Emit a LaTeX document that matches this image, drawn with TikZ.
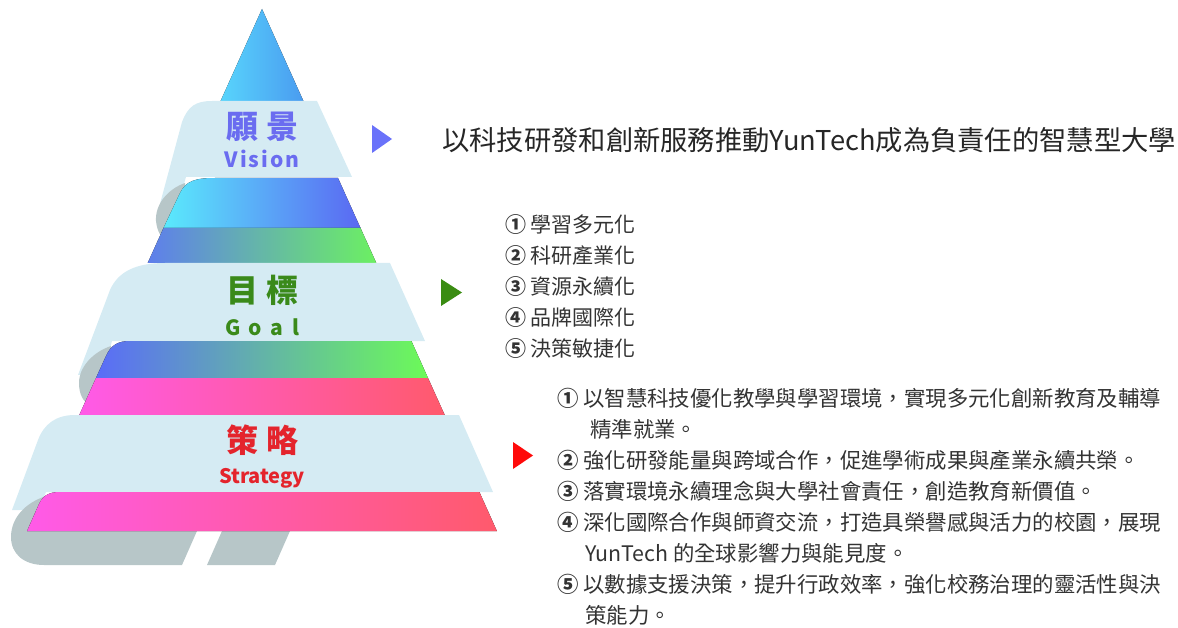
\documentclass[tikz,border=0pt]{standalone}
\usepackage{fontspec}
\setmainfont{Noto Sans CJK TC}
\usetikzlibrary{positioning}

\definecolor{cintacol}{HTML}{D5EBF3}
\definecolor{rizocol}{HTML}{B7C6C8}
\definecolor{puntaizq}{HTML}{58D4FC}
\definecolor{puntader}{HTML}{4A9CF0}
\definecolor{cianizq}{HTML}{5AEAFC}
\definecolor{ciander}{HTML}{5A68F2}
\definecolor{azulizq}{HTML}{5E7EEC}
\definecolor{verdeder}{HTML}{6CF062}
\definecolor{azuldosizq}{HTML}{5A6CF8}
\definecolor{verdedosder}{HTML}{6CFA58}
\definecolor{rosaizq}{HTML}{FF5AE8}
\definecolor{rosamed}{HTML}{FF5A96}
\definecolor{rojoder}{HTML}{FF5A6C}
\definecolor{colvision}{HTML}{6A6CF0}
\definecolor{colmeta}{HTML}{3A8A1A}
\definecolor{colestr}{HTML}{E4242C}
\definecolor{flechaazul}{HTML}{6A72FA}
\definecolor{flechaverde}{HTML}{3A8C12}
\definecolor{flecharoja}{HTML}{FF0A0A}
\definecolor{textogris}{HTML}{333333}

\newcommand{\num}[1]{{\bfseries #1}}

\begin{document}
\begin{tikzpicture}[x=1pt, y=-1pt,
  cinta/.style={fill=cintacol},
  rizo/.style={fill=rizocol},
  rosa/.style={left color=rosaizq, middle color=rosamed, right color=rojoder},
  titulo/.style={inner sep=0pt, font=\bfseries\fontsize{32}{34}\selectfont},
  sub/.style={inner sep=0pt, anchor=base, font=\bfseries\fontsize{21}{24}\selectfont},
  item/.style={inner sep=0pt, anchor=west, text=textogris, font=\fontsize{21}{24}\selectfont},
  itemest/.style={item, font=\fontsize{21.4}{24}\selectfont}]
\useasboundingbox (0,0) rectangle (1178,628);

% Pirámide
\fill[left color=puntaizq, right color=puntader] (262,9) -- (303.4,101) -- (220.6,101) -- cycle;

\fill[cinta] (212,101) -- (317,101) -- (352,177) -- (186,177) -- (175,215) -- (157,215)
  -- (182,122) .. controls (188,106) and (196,101) .. (212,101) -- cycle;
\fill[rizo] (185,183) .. controls (168,189) and (155,204) .. (156,221)
  .. controls (157,231) and (161,238) .. (167,241) -- (190,241) -- cycle;
\fill[left color=cianizq, right color=ciander] (215,178) -- (338,178) -- (360.5,228)
  -- (163.5,228) -- (180,193) .. controls (186,181) and (195,178) .. (215,178) -- cycle;
\fill[left color=azulizq, right color=verdeder] (163.5,228) -- (360.5,228) -- (376.3,263) -- (147.7,263) -- cycle;

\fill[cinta] (165,263) -- (390,263) -- (425,341) -- (112,341) -- (104,372) -- (78,375)
  -- (110,290) .. controls (118,272) and (135,263) .. (165,263) -- cycle;
\fill[rizo] (111,346) .. controls (93,352) and (79,367) .. (79,383)
  .. controls (79,394) and (83,402) .. (90,405) -- (115,405) -- cycle;
\fill[left color=azuldosizq, right color=verdedosder] (130,341) -- (411.4,341) -- (428,378)
  -- (96,378) -- (106,356) .. controls (111,345) and (118,341) .. (130,341) -- cycle;
\fill[rosa] (96,378) -- (428,378) -- (444.7,415) -- (79.3,415) -- cycle;

\fill[cinta] (75,415) -- (459,415) -- (493,492) -- (46,492) -- (38,510) -- (12,510)
  -- (38,440) .. controls (44,424) and (56,415) .. (75,415) -- cycle;
\fill[rizo] (46,496) .. controls (25,503) and (11,518) .. (11,537)
  .. controls (11,554) and (24,565) .. (44,565) -- (182,565) -- (197,531) -- (45,531) -- cycle;
\fill[rizo] (207,565) -- (275,565) -- (290,531) -- (222,531) -- cycle;
\fill[rosa] (60,492) -- (479.4,492) -- (496.9,531) -- (27.1,531)
  -- (39,504) .. controls (43,496) and (48,492) .. (60,492) -- cycle;

% Rótulos
\node[titulo, text=colvision] (vision) at (262,127) {願\hspace{8pt}景};
\node[sub, text=colvision] (visionen) at (262,168) {V\kern2pt i\kern2pt s\kern2pt i\kern2pt o\kern2pt n};
\node[titulo, text=colmeta] (meta) at (262,290) {目\hspace{8pt}標};
\node[sub, text=colmeta] (metaen) at (262,335) {G\hspace{8.5pt}o\hspace{8.5pt}a\hspace{8.5pt}l};
\node[titulo, text=colestr] (estr) at (262,440) {策\hspace{8pt}略};
\node[sub, text=colestr, font=\bfseries\fontsize{20}{24}\selectfont] (estren) at (262,483) {Strategy};

% Flechas
\fill[flechaazul] (372,125) -- (392,139) -- (372,153) -- cycle;
\fill[flechaverde] (441,279) -- (462,292.5) -- (441,306) -- cycle;
\fill[flecharoja] (513,442) -- (533,455.5) -- (513,469) -- cycle;

% Textos
\node[item, text=black!85, font=\fontsize{27.3}{30}\selectfont] (lema) at (442,140)
  {以科技研發和創新服務推動YunTech成為負責任的智慧型大學};

\node[item] (m1) at (505,225) {\num{①} 學習多元化};
\node[item] (m2) at (505,256) {\num{②} 科研產業化};
\node[item] (m3) at (505,287) {\num{③} 資源永續化};
\node[item] (m4) at (505,318) {\num{④} 品牌國際化};
\node[item] (m5) at (505,349) {\num{⑤} 決策敏捷化};

\node[itemest] (e1) at (557,398) {\num{①} 以智慧科技優化教學與學習環境，實現多元化創新教育及輔導};
\node[itemest] (e1b) at (590,429) {精準就業。};
\node[itemest] (e2) at (557,460) {\num{②} 強化研發能量與跨域合作，促進學術成果與產業永續共榮。};
\node[itemest] (e3) at (557,491) {\num{③} 落實環境永續理念與大學社會責任，創造教育新價值。};
\node[itemest] (e4) at (557,522) {\num{④} 深化國際合作與師資交流，打造具榮譽感與活力的校園，展現};
\node[itemest] (e4b) at (585,553) {YunTech 的全球影響力與能見度。};
\node[itemest] (e5) at (557,584) {\num{⑤} 以數據支援決策，提升行政效率，強化校務治理的靈活性與決};
\node[itemest] (e5b) at (585,615) {策能力。};
\end{tikzpicture}
\end{document}
